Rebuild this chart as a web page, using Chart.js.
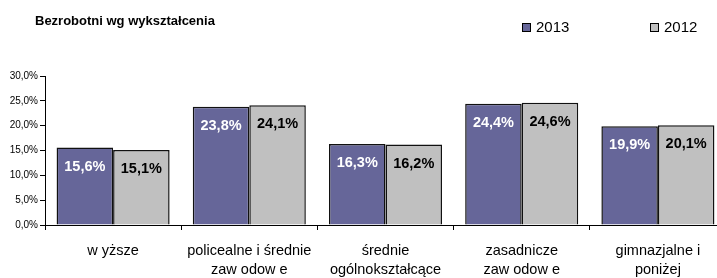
<!DOCTYPE html>
<html>
<head>
<meta charset="utf-8">
<script src="https://cdn.jsdelivr.net/npm/chart.js@4/dist/chart.umd.min.js"></script>
<style>
  html, body { margin: 0; padding: 0; background: #fff; overflow: hidden; }
  #wrap { width: 730px; height: 278px; }
</style>
</head>
<body>
<div id="wrap"><canvas id="eduChart"></canvas></div>
<script>
const categories = [
    ['w yższe'],
    ['policealne i średnie', 'zaw odow e'],
    ['średnie', 'ogólnokształcące'],
    ['zasadnicze', 'zaw odow e'],
    ['gimnazjalne i', 'poniżej']
];
const values2013 = [15.6, 23.8, 16.3, 24.4, 19.9];
const values2012 = [15.1, 24.1, 16.2, 24.6, 20.1];
const seriesNames = ['2013', '2012'];
const chartTitle = 'Bezrobotni wg wykształcenia';

const FONT = '"Liberation Sans", Arial, sans-serif';

function pct(v) {
    return v.toFixed(1).replace('.', ',') + '%';
}

// title, legend and value labels drawn by hand
const decorations = {
    id: 'decorations',
    afterDatasetsDraw(chart) {
        const ctx = chart.ctx;
        ctx.save();

        // value labels inside bars
        ctx.font = 'bold 14.5px ' + FONT;
        ctx.textAlign = 'center';
        ctx.textBaseline = 'middle';
        chart.data.datasets.forEach((ds, i) => {
            const meta = chart.getDatasetMeta(i);
            meta.data.forEach((bar, j) => {
                ctx.fillStyle = i === 0 ? '#ffffff' : '#000000';
                ctx.fillText(pct(ds.data[j]), bar.x, bar.y + 19);
            });
        });

        // title
        ctx.fillStyle = '#000';
        ctx.font = 'bold 13px ' + FONT;
        ctx.textAlign = 'left';
        ctx.fillText(chartTitle, 35, 21);

        // legend
        const legendX = [522, 650];
        ctx.font = '15px ' + FONT;
        chart.data.datasets.forEach((ds, i) => {
            const x = legendX[i];
            ctx.fillStyle = ds.backgroundColor;
            ctx.fillRect(x, 23, 9, 9);
            ctx.strokeStyle = '#000';
            ctx.lineWidth = 1;
            ctx.strokeRect(x + 0.5, 23.5, 8, 8);
            ctx.fillStyle = '#000';
            ctx.fillText(ds.label, x + 14, 28);
        });

        ctx.restore();
    }
};

const ctx = document.getElementById('eduChart').getContext('2d');

new Chart(ctx, {
    type: 'bar',
    data: {
        labels: categories,
        datasets: [
            {
                label: seriesNames[0],
                data: values2013,
                backgroundColor: '#666699',
                borderColor: '#111',
                borderWidth: 1.5,
                barPercentage: 1,
                categoryPercentage: 0.83
            },
            {
                label: seriesNames[1],
                data: values2012,
                backgroundColor: '#c0c0c0',
                borderColor: '#111',
                borderWidth: 1.5,
                barPercentage: 1,
                categoryPercentage: 0.83
            }
        ]
    },
    options: {
        responsive: true,
        maintainAspectRatio: false,
        animation: false,
        layout: {
            padding: { top: 76, right: 4, left: 0, bottom: 0 }
        },
        plugins: {
            legend: { display: false },
            tooltip: { enabled: false }
        },
        scales: {
            x: {
                grid: {
                    drawOnChartArea: false,
                    tickLength: 5,
                    color: '#000'
                },
                border: { color: '#000', width: 1 },
                ticks: {
                    color: '#000',
                    font: { family: FONT, size: 14.5, lineHeight: 1.3 },
                    padding: 12,
                    maxRotation: 0,
                    autoSkip: false
                },
                afterFit(scale) { scale.height = 53; }
            },
            y: {
                min: 0,
                max: 30,
                ticks: {
                    stepSize: 5,
                    color: '#000',
                    font: { family: FONT, size: 10 },
                    padding: 2,
                    callback: v => pct(v)
                },
                grid: {
                    drawOnChartArea: false,
                    tickLength: 5,
                    color: '#000'
                },
                border: { color: '#000', width: 1 },
                afterFit(scale) { scale.width = 45; }
            }
        }
    },
    plugins: [decorations]
});
</script>
</body>
</html>
